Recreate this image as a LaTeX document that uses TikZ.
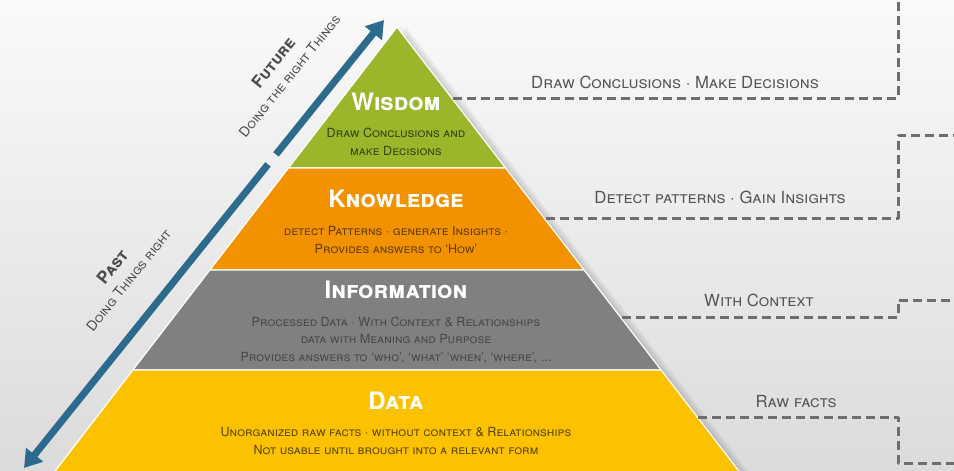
\documentclass[tikz,border=0pt]{standalone}
\usepackage{fontspec}
\setmainfont{TeX Gyre Heros}
\usetikzlibrary{arrows.meta}

\definecolor{wisdomgreen}{HTML}{9BB62A}
\definecolor{knowledgeorange}{HTML}{F39200}
\definecolor{informationgray}{HTML}{808080}
\definecolor{datayellow}{HTML}{FCC200}
\definecolor{arrowblue}{HTML}{2C6A8E}
\definecolor{linkgray}{HTML}{6E6E6E}
\definecolor{sidegray}{HTML}{555555}

\begin{document}
\begin{tikzpicture}[x=1pt, y=-1pt,
    band/.style={draw=white, line width=1.2pt, line join=round},
    title/.style={text=white, font=\fontsize{24}{24}\selectfont\bfseries\scshape},
    note/.style={align=center, font=\fontsize{12.6}{17.5}\selectfont\scshape},
    side/.style={text=sidegray, font=\fontsize{16.7}{17}\selectfont\scshape},
    link/.style={draw=linkgray, line width=3pt, dash pattern=on 9pt off 5pt, line join=round},
    era/.style={align=center, text=black!70, rotate=51.2, font=\fontsize{13.8}{20}\selectfont\scshape}]
    % Background: a soft grey fade over the whole picture.
    \shade[top color=black!2, bottom color=black!14] (0,0) rectangle (954,471);
    \useasboundingbox (0,0) rectangle (954,471);

    % Faint shadow to the right of the pyramid.
    \foreach \d in {3,6,9} {
        \fill[black, opacity=0.05] (397+\d,27) -- (397+0.77*453+\d,480) -- (397,480) -- cycle;
    }

    % Draw the four bands of the pyramid, apex at (397,27).
    \foreach \top/\bot/\col in {27/168/wisdomgreen, 168/270/knowledgeorange,
                                270/370/informationgray, 370/480/datayellow} {
        \fill[\col, band] ({397-0.77*(\top-27)},\top) -- ({397+0.77*(\top-27)},\top)
            -- ({397+0.77*(\bot-27)},\bot) -- ({397-0.77*(\bot-27)},\bot) -- cycle;
    }

    % Band titles and their notes.
    \node[title] (wisdom) at (396,102) {Wisdom};
    \node[note, text=wisdomgreen!35!black] (wisdomtxt) at (396,142)
        {Draw Conclusions and\\make Decisions};
    \node[title] (knowledge) at (396,199) {Knowledge};
    \node[note, text=knowledgeorange!40!black] (knowledgetxt) at (396,240)
        {detect Patterns · generate Insights ·\\Provides answers to ‘How’};
    \node[title] (information) at (396,290) {Information};
    \node[note, text=black!72] (informationtxt) at (396,340)
        {Processed Data · With Context \& Relationships\\data with Meaning and Purpose\\
         Provides answers to ‘who’, ‘what’ ‘when’, ‘where’, ...};
    \node[title] (data) at (396,401) {Data};
    \node[note, text=datayellow!35!black] (datatxt) at (396,441)
        {Unorganized raw facts · without context \& Relationships\\
         Not usable until brought into a relevant form};

    % Time arrow along the left side, broken in two.
    \coordinate (futuretip) at (384,20);
    \coordinate (pasttip) at (24,468);
    \coordinate (gapup) at (276,154.4);
    \coordinate (gapdown) at (268,164.4);
    \draw[arrowblue, line width=7pt, -{Triangle[width=21pt,length=17pt]}] (gapup) -- (futuretip);
    \draw[arrowblue, line width=7pt, -{Triangle[width=21pt,length=17pt]}] (gapdown) -- (pasttip);

    \node[era] (future) at (281,69)
        {{\fontsize{16.6}{16.6}\selectfont\bfseries Future}\\Doing the right Things};
    \node[era] (past) at (120,273)
        {{\fontsize{17}{17}\selectfont\bfseries Past}\\Doing Things right};

    % Side labels and the dashed links that lead off the picture.
    \node[side] (wisdomside) at (675,82) {Draw Conclusions · Make Decisions};
    \node[side] (knowledgeside) at (720,197) {Detect patterns · Gain Insights};
    \node[side] (informationside) at (759,300) {With Context};
    \node[side] (dataside) at (796,402) {Raw facts};

    \coordinate (wisdomedge) at (453,98);
    \coordinate (knowledgeedge) at (546,218);
    \coordinate (informationedge) at (622,317);
    \coordinate (dataedge) at (698,417);
    \coordinate (wisdomend) at (898,-3);
    \coordinate (knowledgebend) at (898,135);
    \coordinate (informationbend) at (898,300);
    \coordinate (databend) at (898,463);

    \draw[link] (wisdomedge) -| (wisdomend);
    \draw[link] (knowledgeedge) -| (knowledgebend) -- ++(60,0);
    \draw[link] (informationedge) -| (informationbend) -- ++(60,0);
    \draw[link] (dataedge) -| (databend) -- ++(60,0);
\end{tikzpicture}
\end{document}
